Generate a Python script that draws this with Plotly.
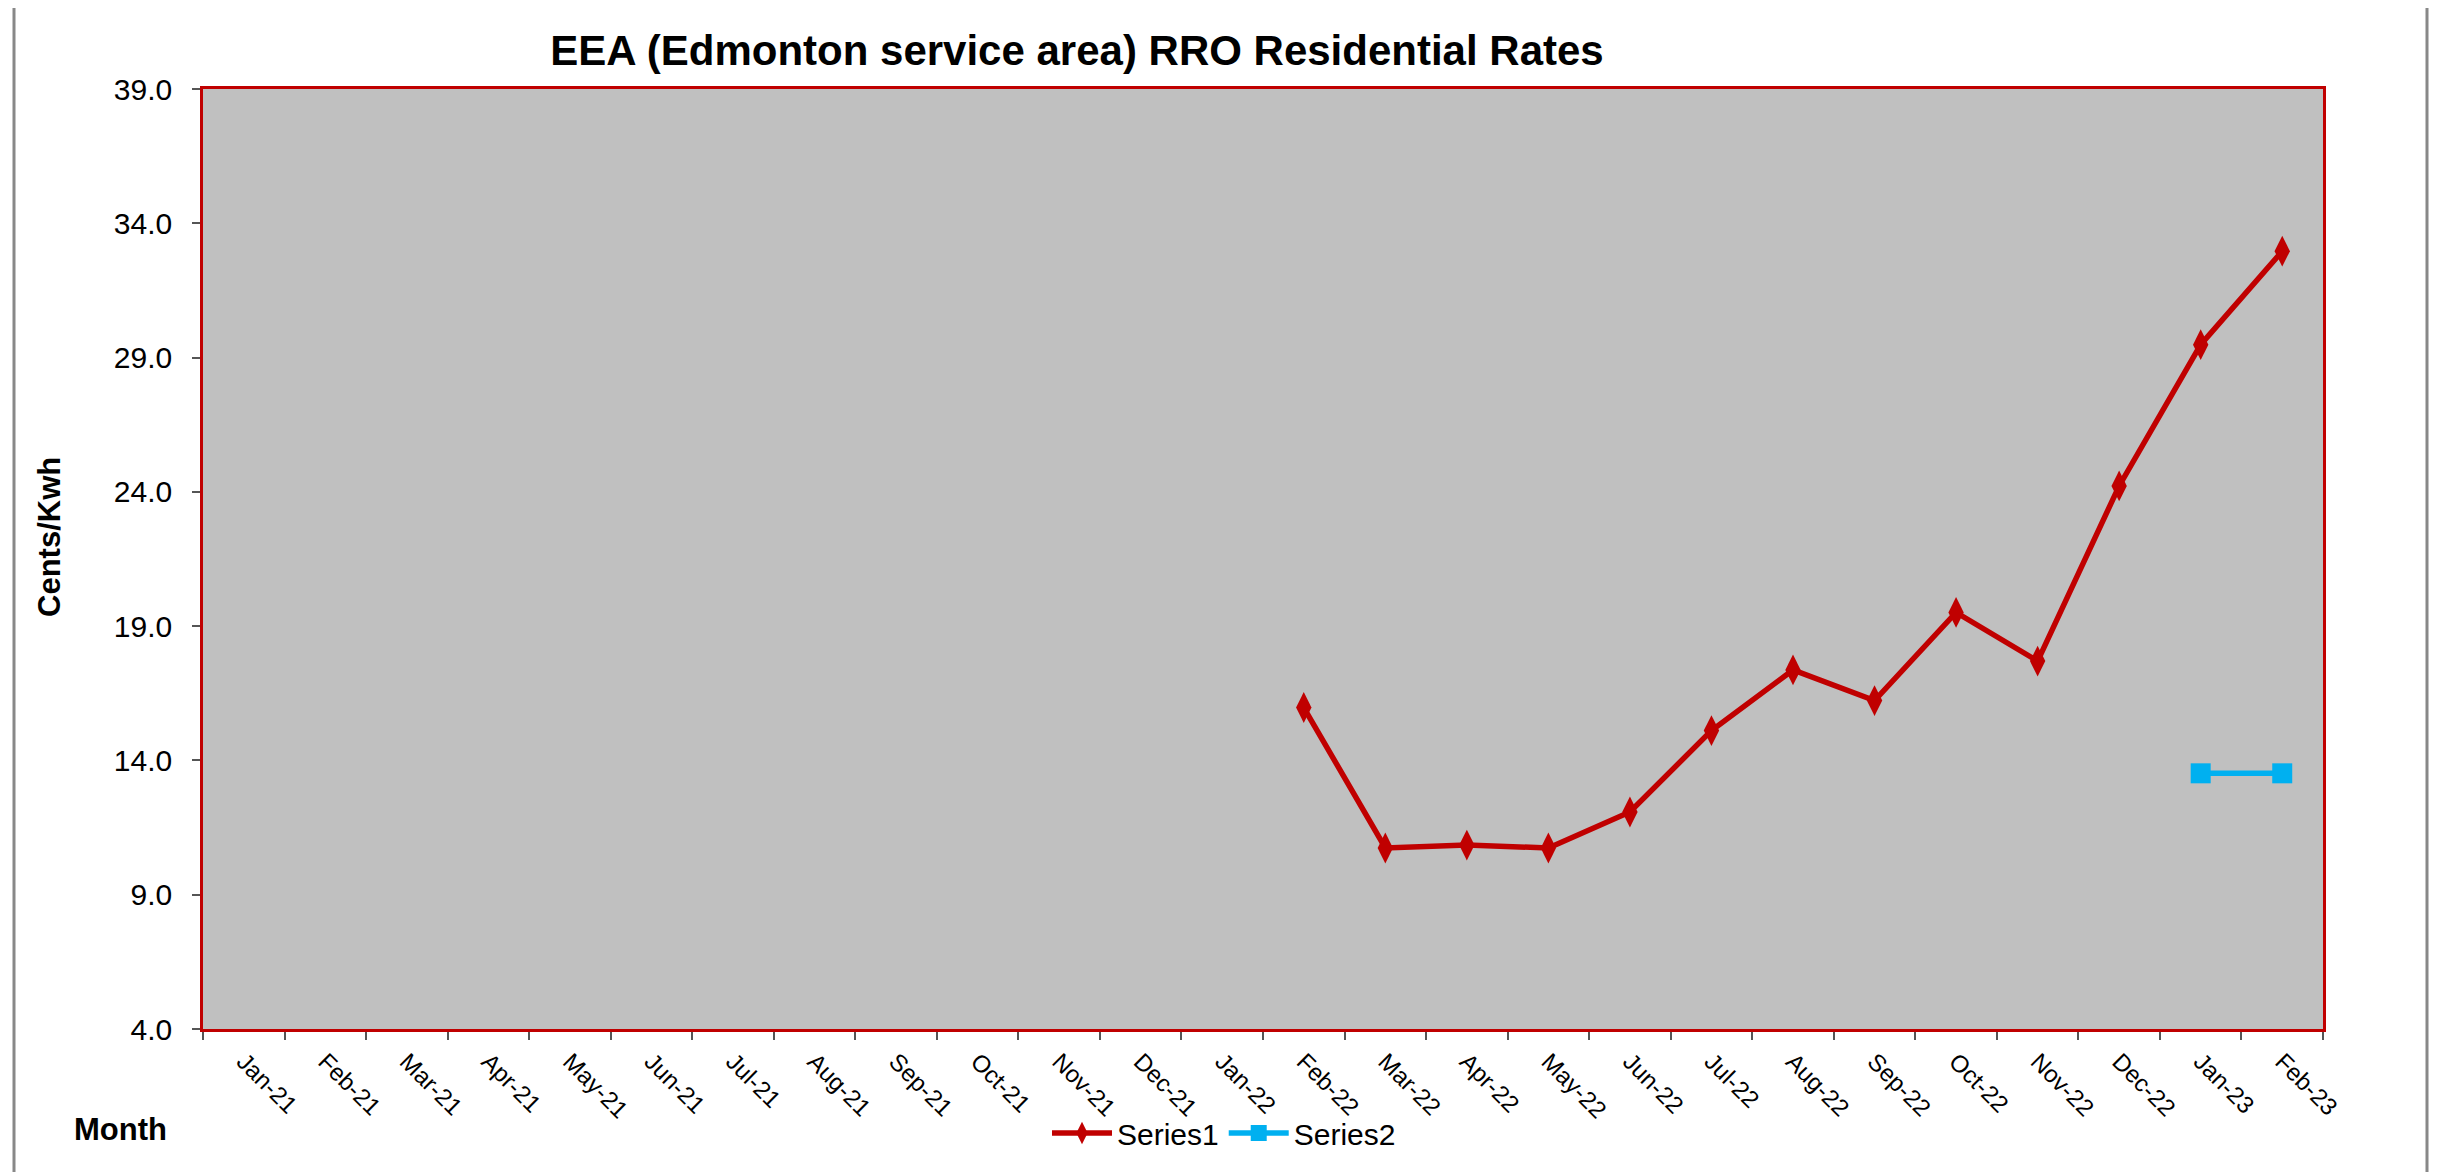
import plotly.graph_objects as go

months = ["Jan-21", "Feb-21", "Mar-21", "Apr-21", "May-21", "Jun-21", "Jul-21",
          "Aug-21", "Sep-21", "Oct-21", "Nov-21", "Dec-21", "Jan-22", "Feb-22",
          "Mar-22", "Apr-22", "May-22", "Jun-22", "Jul-22", "Aug-22", "Sep-22",
          "Oct-22", "Nov-22", "Dec-22", "Jan-23", "Feb-23"]

series1 = [None] * 13 + [15.97, 10.74, 10.85, 10.74, 12.08, 15.11, 17.37,
                         16.23, 19.51, 17.70, 24.22, 29.48, 32.96]
series2 = [None] * 24 + [13.52, 13.52]

y_ticks = [4.0, 9.0, 14.0, 19.0, 24.0, 29.0, 34.0, 39.0]

W, H = 2443, 1172
OFF = 8  # page body margin offset
# plot area in page pixels: x 203..2323, y 89..1029
L = 203 - OFF
T = 89 - OFF
R = W - (2323 - OFF)
B = H - (1029 - OFF)
PW, PH = W - L - R, H - T - B


def px_x(x):
    return (x - OFF - L) / PW


def px_y(y):
    return (H - B - (y - OFF)) / PH


RED = "#C00000"
BLUE = "#00B0F0"

fig = go.Figure()
fig.add_trace(go.Scatter(
    x=months, y=series1, name="Series1", mode="lines+markers",
    line=dict(color=RED, width=5.5),
    marker=dict(symbol="diamond-tall", size=22, color=RED),
))
fig.add_trace(go.Scatter(
    x=months, y=series2, name="Series2", mode="lines+markers",
    line=dict(color=BLUE, width=5.5),
    marker=dict(symbol="square", size=20, color=BLUE),
))

fig.update_layout(
    width=W, height=H,
    margin=dict(l=L, r=R, t=T, b=B, autoexpand=False),
    paper_bgcolor="white",
    plot_bgcolor="#C0C0C0",
    font=dict(family="Arial, Liberation Sans, sans-serif", color="black", size=30),
    title=dict(
        text="<b>EEA (Edmonton service area) RRO Residential Rates</b>",
        x=px_x(1077), xanchor="center", xref="paper",
        y=1 - (50 - OFF) / H, yanchor="middle", yref="container",
        font=dict(size=42, color="black"),
    ),
    showlegend=True,
    legend=dict(
        orientation="h", x=px_x(1224), xanchor="center",
        y=px_y(1133), yanchor="middle",
        font=dict(size=30), itemwidth=60, tracegroupgap=0,
        bgcolor="rgba(0,0,0,0)",
    ),
    xaxis=dict(
        type="category", categoryorder="array", categoryarray=months,
        range=[-0.5, len(months) - 0.5],
        tickson="boundaries", ticks="outside", ticklen=8, tickwidth=2,
        tickcolor="#555555", tickangle=45,
        tickfont=dict(size=24),
        showgrid=False, zeroline=False,
        showline=True, linecolor=RED, linewidth=3, mirror=True,
        ticklabelstandoff=6,
    ),
    yaxis=dict(
        range=[4, 39], tickmode="array", tickvals=y_ticks,
        ticktext=[f"{v:.1f}" for v in y_ticks],
        ticks="outside", ticklen=8, tickwidth=2, tickcolor="#555555",
        tickfont=dict(size=30),
        showgrid=False, zeroline=False,
        showline=True, linecolor=RED, linewidth=2.5, mirror=True,
        ticklabelstandoff=14,
    ),
    annotations=[
        dict(text="<b>Cents/Kwh</b>", xref="paper", yref="paper",
             x=px_x(49), y=px_y(537), xanchor="center", yanchor="middle",
             textangle=-90, showarrow=False, font=dict(size=31, color="black")),
        dict(text="<b>Month</b>", xref="paper", yref="paper",
             x=px_x(120), y=px_y(1129), xanchor="center", yanchor="middle",
             showarrow=False, font=dict(size=31, color="black")),
    ],
    shapes=[
        dict(type="rect", xref="paper", yref="paper",
             x0=px_x(14), x1=px_x(2427), y0=px_y(1200), y1=px_y(4),
             line=dict(color="#888888", width=3), layer="below"),
    ],
)

fig.write_html("out.html")
